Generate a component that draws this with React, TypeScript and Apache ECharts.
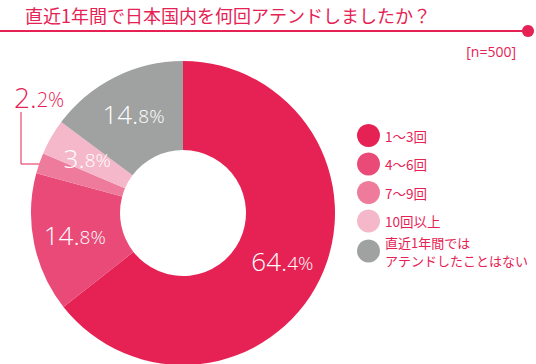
import React, { useEffect, useRef } from "react";
import * as echarts from "echarts";

const TITLE = "直近1年間で日本国内を何回アテンドしましたか？";
const SAMPLE = "[n=500]";
const categories = ["1〜3回", "4〜6回", "7〜9回", "10回以上", "直近1年間では\nアテンドしたことはない"];
const values = [64.4, 14.8, 2.2, 3.8, 14.8];
const colors = ["#E62254", "#E94A77", "#EE7B9B", "#F5B8CB", "#A0A2A1"];

const ACCENT = "#E62254";
const FONT = "'Open Sans', 'Noto Sans CJK JP', sans-serif";
const JFONT = "'Noto Sans CJK JP', sans-serif";

export default function App() {
  const ref = useRef<HTMLDivElement>(null);
  useEffect(() => {
    if (!ref.current) return;
    const chart = echarts.init(ref.current, undefined, { renderer: "svg" });
    const fmt = (p: any) => {
      const s = Number(p.value).toFixed(1).split(".");
      return `{a|${s[0]}.}{b|${s[1]}%}`;
    };
    const legendBase = {
      orient: "vertical",
      left: 352,
      itemWidth: 23,
      itemHeight: 23,
      itemGap: 5.5,
      icon: "circle",
      selectedMode: false,
      textStyle: { color: ACCENT, fontSize: 13.5, fontFamily: JFONT },
    };
    chart.setOption({
      animation: false,
      backgroundColor: "#ffffff",
      title: [
        {
          text: TITLE,
          left: 20,
          top: 1,
          textStyle: { color: ACCENT, fontSize: 18, fontWeight: "normal", fontFamily: JFONT },
        },
        {
          text: SAMPLE,
          right: 15,
          top: 39,
          textStyle: { color: ACCENT, fontSize: 14, fontWeight: "normal", fontFamily: FONT },
        },
      ],
      graphic: [
        { type: "line", shape: { x1: 0, y1: 31, x2: 526, y2: 31 }, style: { stroke: ACCENT, lineWidth: 2 } },
        { type: "circle", shape: { cx: 528, cy: 31, r: 6 }, style: { fill: ACCENT } },
      ],
      legend: [
        { ...legendBase, top: 119, data: categories.slice(0, 4) },
        {
          ...legendBase,
          top: 218.5,
          data: [
            {
              name: categories[4],
              textStyle: { fontSize: 13, lineHeight: 18, padding: [19, 0, 0, 0] },
            },
          ],
        },
      ],
      series: [
        {
          type: "pie",
          center: [183, 213],
          radius: [63, 152],
          startAngle: 90,
          clockwise: true,
          avoidLabelOverlap: false,
          itemStyle: { borderWidth: 0 },
          emphasis: { disabled: true },
          label: {
            show: true,
            position: "inside",
            formatter: fmt,
            color: "#fff",
            rich: {
              a: { fontSize: 26, color: "#fff", fontFamily: FONT, fontWeight: 300 },
              b: { fontSize: 19, color: "#fff", fontFamily: FONT, fontWeight: 300, padding: [4, 0, 0, 0] },
            },
          },
          labelLine: { show: false },
          labelLayout: (p: any) => {
            if (p.dataIndex === 2) {
              return {
                x: 14,
                y: 97,
                align: "left",
                verticalAlign: "middle",
                labelLinePoints: [
                  [44, 164],
                  [21, 164],
                  [21, 112],
                ],
              };
            }
            return {};
          },
          data: categories.map((c, i) => {
            const d: any = { name: c, value: values[i], itemStyle: { color: colors[i] } };
            if (i === 2) {
              d.label = {
                position: "outside",
                rich: {
                  a: { fontSize: 28, color: ACCENT, fontFamily: FONT, fontWeight: 300 },
                  b: { fontSize: 20, color: ACCENT, fontFamily: FONT, fontWeight: 300, padding: [4, 0, 0, 0] },
                },
              };
              d.labelLine = { show: true, lineStyle: { color: ACCENT, width: 1 } };
            }
            return d;
          }),
        },
      ],
    });
    return () => chart.dispose();
  }, []);
  return (
    <div
      ref={ref}
      style={{ position: "fixed", left: 0, top: 0, width: 536, height: 364 }}
    />
  );
}
